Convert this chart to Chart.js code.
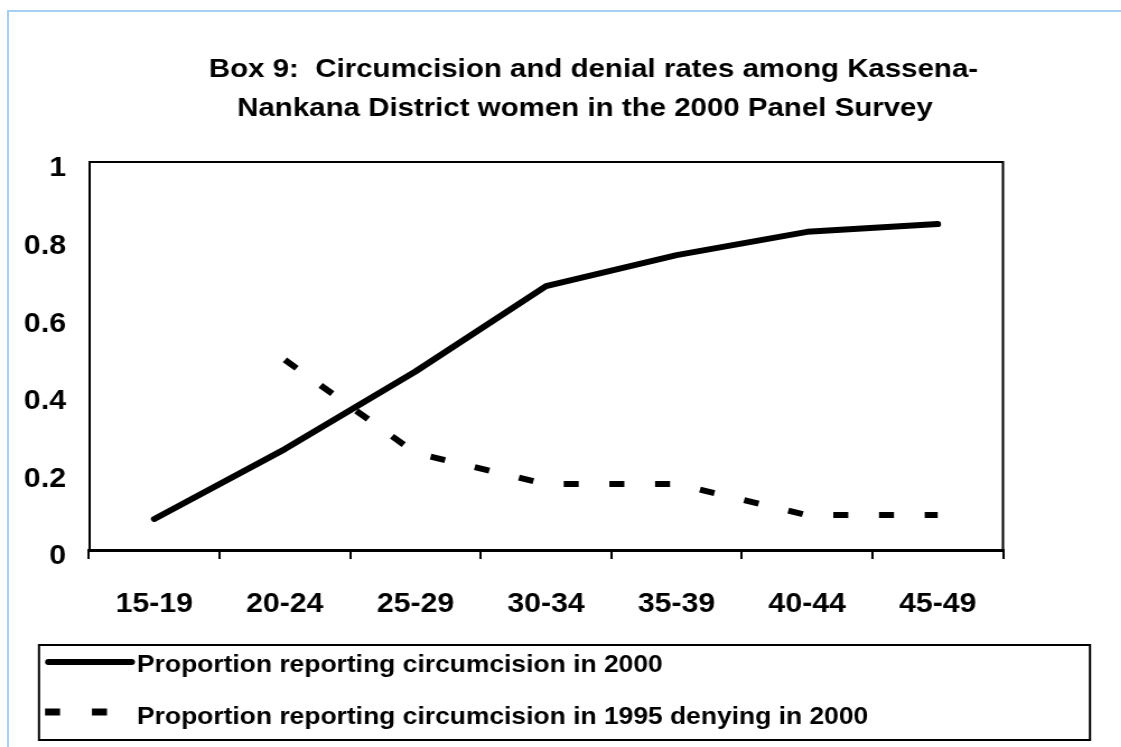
<!DOCTYPE html>
<html><head><meta charset="utf-8">
<script src="https://cdn.jsdelivr.net/npm/chart.js@4/dist/chart.umd.min.js"></script>
<style>
html,body{margin:0;padding:0;background:#fff;overflow:hidden;width:1121px;height:747px}
#frame{position:absolute;left:7px;top:10px;width:1300px;height:900px;border-left:2px solid #a6cff5;border-top:2px solid #a6cff5}
#wrap{position:absolute;left:0;top:0;width:1001px;height:747px;transform:scaleX(1.12);transform-origin:0 0}
</style></head>
<body><div id="frame"></div><div id="wrap"><canvas id="c" width="1001" height="747"></canvas></div>
<script>
const categories = ['15-19','20-24','25-29','30-34','35-39','40-44','45-49'];
const circumcised2000 = [0.08, 0.26, 0.46, 0.68, 0.76, 0.82, 0.84];
const denying2000 = [null, 0.49, 0.25, 0.17, 0.17, 0.09, 0.09];
const seriesLabels = ['Proportion reporting circumcision in 2000', 'Proportion reporting circumcision in 1995 denying in 2000'];
const titleLines = ['Box 9:  Circumcision and denial rates among Kassena-', 'Nankana District women in the 2000 Panel Survey'];
const yTicks = [0, 0.2, 0.4, 0.6, 0.8, 1];

const FONT = '"Liberation Sans", Arial, sans-serif';

const framePlugin = {
  id: 'frame',
  beforeDatasetsDraw(chart) {
    const {ctx, chartArea: a} = chart;
    ctx.save();
    ctx.strokeStyle = '#000'; ctx.lineWidth = 2;
    ctx.beginPath();
    ctx.moveTo(a.left, a.top); ctx.lineTo(a.right, a.top); ctx.lineTo(a.right, a.bottom);
    ctx.stroke();
    ctx.restore();
  }
};

const titlePlugin = {
  id: 'boxTitle',
  afterDraw(chart) {
    const ctx = chart.ctx;
    ctx.save();
    ctx.fillStyle = '#000';
    ctx.font = 'bold 26.3px ' + FONT;
    ctx.textAlign = 'center'; ctx.textBaseline = 'alphabetic';
    ctx.fillText(titleLines[0], 529.9, 77);
    ctx.fillText(titleLines[1], 522.3, 116);
    ctx.restore();
  }
};

const legendPlugin = {
  id: 'boxLegend',
  afterDraw(chart) {
    const ctx = chart.ctx;
    const ds = chart.data.datasets;
    ctx.save();
    ctx.strokeStyle = '#000'; ctx.lineWidth = 2;
    ctx.strokeRect(34.8, 645, 938.4, 95);
    // row 1 sample
    ctx.lineWidth = 6; ctx.lineCap = 'round'; ctx.setLineDash([]);
    ctx.beginPath(); ctx.moveTo(43.2, 662); ctx.lineTo(117.5, 662); ctx.stroke();
    // row 2 sample
    ctx.lineWidth = 7; ctx.lineCap = 'butt'; ctx.setLineDash([13.4, 28.5]);
    ctx.beginPath(); ctx.moveTo(40.2, 712); ctx.lineTo(118, 712); ctx.stroke();
    ctx.setLineDash([]);
    ctx.fillStyle = '#000';
    ctx.font = 'bold 23.6px ' + FONT;
    ctx.textAlign = 'left'; ctx.textBaseline = 'alphabetic';
    ctx.fillText(ds[0].label, 122.3, 672);
    ctx.fillText(ds[1].label, 122.3, 724);
    ctx.restore();
  }
};

new Chart(document.getElementById('c'), {
  type: 'line',
  data: {
    labels: categories,
    datasets: [
      { label: seriesLabels[0], data: circumcised2000, borderColor: '#000', borderWidth: 6,
        borderCapStyle: 'round', borderJoinStyle: 'round', pointRadius: 0, tension: 0, fill: false },
      { label: seriesLabels[1], data: denying2000, borderColor: '#000', borderWidth: 6,
        borderDash: [13.4, 27.4], borderCapStyle: 'butt', borderJoinStyle: 'miter', pointRadius: 0, tension: 0, fill: false }
    ]
  },
  options: {
    responsive: false,
    animation: false,
    devicePixelRatio: 1,
    layout: { padding: { top: 162, right: 105.5, bottom: 0, left: 0 } },
    plugins: { legend: { display: false }, title: { display: false }, tooltip: { enabled: false } },
    scales: {
      x: {
        offset: true,
        grid: { display: true, offset: true, drawOnChartArea: false, drawTicks: true, tickLength: 9, color: '#000', lineWidth: 2 },
        border: { display: true, color: '#000', width: 3 },
        ticks: { color: '#000', font: { family: FONT, size: 27, weight: 'bold' }, padding: 29, maxRotation: 0, autoSkip: false },
        afterFit: s => { s.height = 197; }
      },
      y: {
        min: 0, max: 1,
        grid: { display: true, drawOnChartArea: false, drawTicks: false },
        border: { display: true, color: '#000', width: 2 },
        afterBuildTicks: s => { s.ticks = yTicks.map(v => ({ value: v })); },
        ticks: { color: '#000', font: { family: FONT, size: 27, weight: 'bold' }, padding: 20.6, labelOffset: 7,
                 callback: v => String(Math.round(v * 10) / 10) },
        afterFit: s => { s.width = 79.5; }
      }
    }
  },
  plugins: [framePlugin, titlePlugin, legendPlugin]
});
</script>
</body></html>
